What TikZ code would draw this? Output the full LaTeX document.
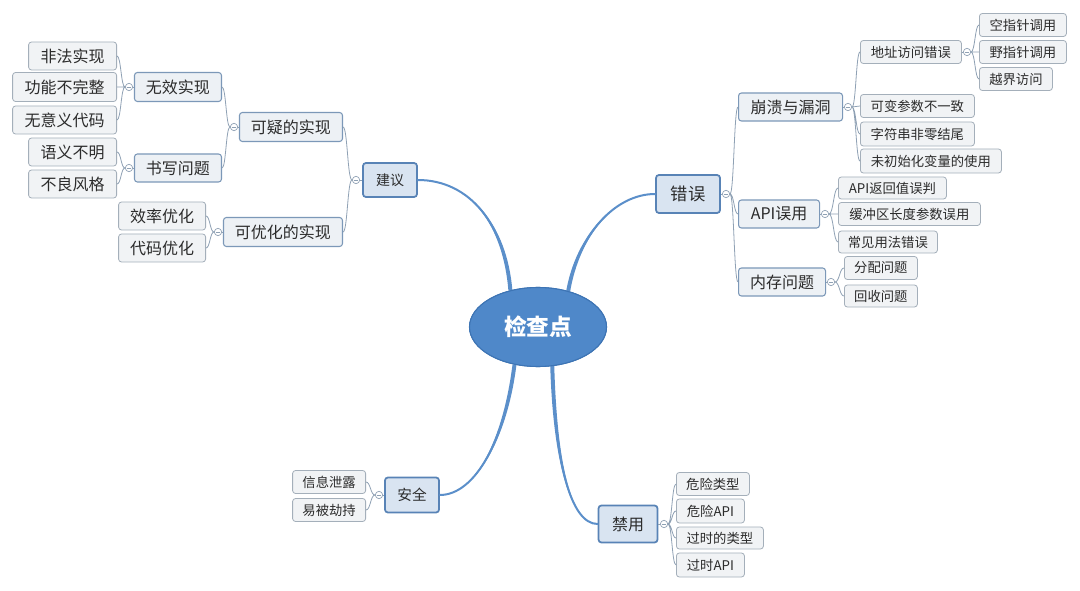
\documentclass[tikz,border=0pt]{standalone}
\usepackage{fontspec}
\setmainfont{Noto Sans CJK SC}
\usetikzlibrary{shapes.geometric,calc}
\definecolor{mainline}{HTML}{5B8FCA}
\definecolor{rootfill}{HTML}{4F88C9}
\definecolor{rootdraw}{HTML}{3D74B4}
\definecolor{mainfill}{HTML}{D9E4F1}
\definecolor{maindraw}{HTML}{5883B6}
\definecolor{midfill}{HTML}{EDF1F5}
\definecolor{middraw}{HTML}{7C98B8}
\definecolor{leaffill}{HTML}{F1F3F5}
\definecolor{leafdraw}{HTML}{A4AFBA}
\definecolor{subline}{HTML}{8FA1B4}
\definecolor{txt}{HTML}{2B2B2B}
\tikzset{
 box/.style={rectangle, rounded corners=2.2pt, inner sep=0pt, text=txt},
 wh/.style 2 args={minimum width=#1*0.75pt, minimum height=#2*0.75pt},
 mainbox/.style={box, fill=mainfill, draw=maindraw, line width=1.3pt},
 midbox/.style={box, fill=midfill, draw=middraw, line width=0.8pt},
 leafbox/.style={box, fill=leaffill, draw=leafdraw, line width=0.6pt},
 fs/.style={font=\fontsize{#1}{#1}\selectfont},
 rootnode/.style={ellipse, fill=rootfill, draw=rootdraw, line width=0.8pt, minimum width=137*0.75pt, minimum height=79*0.75pt, inner sep=0pt, text=white, font=\fontsize{17}{17}\selectfont\bfseries},
 toggle/.style={circle, draw=subline, fill=white, line width=0.5pt, minimum size=5.5pt, inner sep=0pt, path picture={\draw[subline, line width=0.5pt] ([xshift=1.3pt]path picture bounding box.west) -- ([xshift=-1.3pt]path picture bounding box.east);}},
 branch/.style={draw=mainline, line width=1.5pt, line cap=round},
 taper/.style={fill=mainline},
 sub/.style={draw=subline, line width=0.6pt},
 fan/.style={to path={let \p1=(\tikztostart), \p2=(\tikztotarget) in .. controls ({(\x1+\x2)/2},\y1) and ({(\x1+\x2)/2},\y2) .. (\tikztotarget)}},
}
\begin{document}
\begin{tikzpicture}[x=0.75pt,y=-0.75pt]
\useasboundingbox[fill=white] (0,0) rectangle (1080,591);
% root
\node[rootnode] (root) at (538,327) {检查点};
% ---------- left: 建议
\node[mainbox, wh={54}{34}, fs=10.5] (jy) at (390,180) {建议};
\node[toggle] (tjy) at (356,180) {};
\node[midbox, wh={103}{29}, fs=12, anchor=east] (kyi) at (343,127) {可疑的实现};
\node[midbox, wh={119}{29}, fs=12, anchor=east] (kyh) at (343,232) {可优化的实现};
\node[toggle] (tkyi) at (234,127) {};
\node[toggle] (tkyh) at (218,232) {};
\node[midbox, wh={87}{29}, fs=12, anchor=east] (wx) at (222,87) {无效实现};
\node[midbox, wh={87}{28}, fs=12, anchor=east] (sx) at (222,168) {书写问题};
\node[toggle] (twx) at (129,87) {};
\node[toggle] (tsx) at (129,168) {};
\node[leafbox, wh={88}{28}, fs=12, anchor=east] (l1) at (117,56) {非法实现};
\node[leafbox, wh={104}{29}, fs=12, anchor=east] (l2) at (117,87) {功能不完整};
\node[leafbox, wh={104}{28}, fs=12, anchor=east] (l3) at (117,120) {无意义代码};
\node[leafbox, wh={88}{28}, fs=12, anchor=east] (l4) at (117,152) {语义不明};
\node[leafbox, wh={88}{28}, fs=12, anchor=east] (l5) at (117,184) {不良风格};
\node[leafbox, wh={87}{28}, fs=12, anchor=east] (l6) at (206,216) {效率优化};
\node[leafbox, wh={87}{28}, fs=12, anchor=east] (l7) at (206,248) {代码优化};
% ---------- right: 错误
\node[mainbox, wh={64}{38}, fs=13] (cw) at (688,194) {错误};
\node[toggle] (tcw) at (726,194) {};
\node[midbox, wh={104}{28}, fs=12, anchor=west] (bk) at (738,107) {崩溃与漏洞};
\node[midbox, wh={81}{28}, fs=12, anchor=west] (api) at (738,214) {API误用};
\node[midbox, wh={87}{28}, fs=12, anchor=west] (nc) at (738,282) {内存问题};
\node[toggle] (tbk) at (848,107) {};
\node[toggle] (tapi) at (825,214) {};
\node[toggle] (tnc) at (831,282) {};
\node[leafbox, wh={101}{23}, fs=10, anchor=west] (dz) at (860,52) {地址访问错误};
\node[leafbox, wh={114}{23}, fs=10, anchor=west] (r4) at (860,106) {可变参数不一致};
\node[leafbox, wh={114}{24}, fs=10, anchor=west] (r5) at (860,134) {字符串非零结尾};
\node[leafbox, wh={141}{24}, fs=10, anchor=west] (r6) at (860,161) {未初始化变量的使用};
\node[toggle] (tdz) at (967,52) {};
\node[leafbox, wh={87}{23}, fs=10, anchor=west] (r1) at (979,25) {空指针调用};
\node[leafbox, wh={87}{23}, fs=10, anchor=west] (r2) at (979,52) {野指针调用};
\node[leafbox, wh={73}{23}, fs=10, anchor=west] (r3) at (979,79) {越界访问};
\node[leafbox, wh={108}{22}, fs=10, anchor=west] (r7) at (838,188) {API返回值误判};
\node[leafbox, wh={142}{23}, fs=10, anchor=west] (r8) at (838,214) {缓冲区长度参数误用};
\node[leafbox, wh={99}{22}, fs=10, anchor=west] (r9) at (838,242) {常见用法错误};
\node[leafbox, wh={73}{23}, fs=10, anchor=west] (r10) at (844,268) {分配问题};
\node[leafbox, wh={73}{22}, fs=10, anchor=west] (r11) at (844,296) {回收问题};
% ---------- bottom left: 安全
\node[mainbox, wh={54}{35}, fs=11] (aq) at (412,495) {安全};
\node[toggle] (taq) at (379,495) {};
\node[leafbox, wh={73}{23}, fs=10, anchor=east] (b1) at (366,482) {信息泄露};
\node[leafbox, wh={73}{23}, fs=10, anchor=east] (b2) at (366,510) {易被劫持};
% ---------- bottom right: 禁用
\node[mainbox, wh={59}{37}, fs=12] (jyong) at (628,524) {禁用};
\node[toggle] (tjyong) at (664,524) {};
\node[leafbox, wh={73}{23}, fs=10, anchor=west] (b3) at (676,484) {危险类型};
\node[leafbox, wh={68}{24}, fs=10, anchor=west] (b4) at (676,511) {危险API};
\node[leafbox, wh={87}{22}, fs=10, anchor=west] (b5) at (676,538) {过时的类型};
\node[leafbox, wh={68}{24}, fs=10, anchor=west] (b6) at (676,565) {过时API};
% ---------- main branches (tapered)
\fill[taper] ($(root.127)+(-2,0)$) .. controls (503,225) and (470,180) .. (jy.east) .. controls (470,180) and (507,225) .. ($(root.127)+(2,0)$) -- cycle;
\fill[taper] ($(root.50)+(-2,0)$) .. controls (576,235) and (615,194) .. (cw.west) .. controls (615,194) and (580,235) .. ($(root.50)+(2,0)$) -- cycle;
\fill[taper] ($(root.238)+(-2,0)$) .. controls (503,440) and (475,495) .. (aq.east) .. controls (475,495) and (507,440) .. ($(root.238)+(2,0)$) -- cycle;
\fill[taper] ($(root.290)+(-2,0)$) .. controls (553,460) and (570,524) .. (jyong.west) .. controls (570,524) and (557,460) .. ($(root.290)+(2,0)$) -- cycle;
\draw[branch] (root.127) .. controls (505,225) and (470,180) .. (jy.east);
\draw[branch] (root.50) .. controls (578,235) and (615,194) .. (cw.west);
\draw[branch] (root.238) .. controls (505,440) and (475,495) .. (aq.east);
\draw[branch] (root.290) .. controls (555,460) and (570,524) .. (jyong.west);
% redraw root on top of branch ends
\node[rootnode] at (root.center) {检查点};
% ---------- sub connectors
\draw[sub] (jy.west) -- (tjy.east);
\draw[sub] (tjy.west) to[fan] (kyi.east) (tjy.west) to[fan] (kyh.east);
\draw[sub] (kyi.west) -- (tkyi.east);
\draw[sub] (tkyi.west) to[fan] (wx.east) (tkyi.west) to[fan] (sx.east);
\draw[sub] (kyh.west) -- (tkyh.east);
\draw[sub] (tkyh.west) to[fan] (l6.east) (tkyh.west) to[fan] (l7.east);
\draw[sub] (wx.west) -- (twx.east);
\draw[sub] (twx.west) to[fan] (l1.east) (twx.west) to[fan] (l2.east) (twx.west) to[fan] (l3.east);
\draw[sub] (sx.west) -- (tsx.east);
\draw[sub] (tsx.west) to[fan] (l4.east) (tsx.west) to[fan] (l5.east);
\draw[sub] (cw.east) -- (tcw.west);
\draw[sub] (tcw.east) to[fan] (bk.west) (tcw.east) to[fan] (api.west) (tcw.east) to[fan] (nc.west);
\draw[sub] (bk.east) -- (tbk.west);
\draw[sub] (tbk.east) to[fan] (dz.west) (tbk.east) to[fan] (r4.west) (tbk.east) to[fan] (r5.west) (tbk.east) to[fan] (r6.west);
\draw[sub] (dz.east) -- (tdz.west);
\draw[sub] (tdz.east) to[fan] (r1.west) (tdz.east) to[fan] (r2.west) (tdz.east) to[fan] (r3.west);
\draw[sub] (api.east) -- (tapi.west);
\draw[sub] (tapi.east) to[fan] (r7.west) (tapi.east) to[fan] (r8.west) (tapi.east) to[fan] (r9.west);
\draw[sub] (nc.east) -- (tnc.west);
\draw[sub] (tnc.east) to[fan] (r10.west) (tnc.east) to[fan] (r11.west);
\draw[sub] (aq.west) -- (taq.east);
\draw[sub] (taq.west) to[fan] (b1.east) (taq.west) to[fan] (b2.east);
\draw[sub] (jyong.east) -- (tjyong.west);
\draw[sub] (tjyong.east) to[fan] (b3.west) (tjyong.east) to[fan] (b4.west) (tjyong.east) to[fan] (b5.west) (tjyong.east) to[fan] (b6.west);
\end{tikzpicture}
\end{document}
